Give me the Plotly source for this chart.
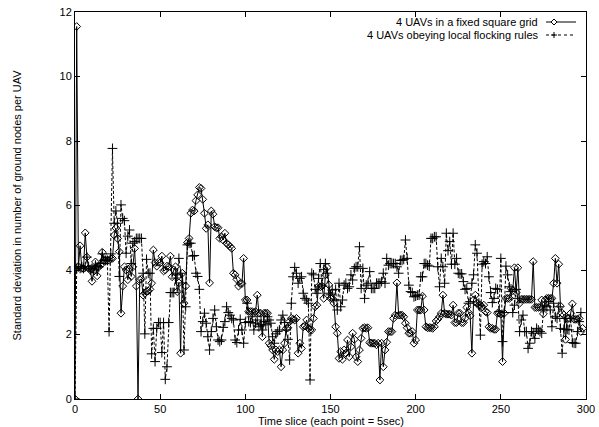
import plotly.graph_objects as go

# Series: 4 UAVs in a fixed square grid (index = time slice)
grid_vals = [
    0, 11.55, 4.1, 4.75, 4.05, 4.05, 5.15, 4.4, 4.05, 4.0,
    3.65, 4.0, 4.25, 3.82, 4.1, 4.15, 4.55, 4.3, 4.3, 4.3,
    4.3, 4.35, 4.36, 5.08, 5.3, 4.98, 4.57, 2.66, 3.5, 4.1,
    4.0, 3.7, 4.05, 3.8, 4.1, 4.67, 3.5, 0, 3.7, 3.72,
    3.22, 3.28, 3.33, 3.35, 3.4, 3.59, 4.62, 4.23, 4.12, 4.24,
    4.22, 4.43, 3.97, 4.0, 4.12, 4.1, 4.43, 3.79, 4.0, 4.1,
    3.33, 3.6, 1.42, 3.9, 2.97, 3.5, 4.85, 4.98, 5.76, 5.86,
    5.83, 6.15, 6.33, 6.56, 6.53, 6.19, 5.76, 5.29, 5.4, 3.6,
    5.83, 5.73, 5.34, 5.31, 5.31, 4.98, 5.03, 4.93, 5.14, 4.83,
    4.78, 4.73, 4.67, 3.9, 3.85, 3.71, 3.5, 3.58, 3.58, 4.36,
    3.07, 3.07, 2.71, 2.71, 2.71, 2.68, 2.71, 3.22, 2.66, 2.66,
    1.93, 2.66, 2.66, 2.66, 1.73, 1.65, 1.52, 1.23, 1.52, 1.47,
    1.52, 1.0, 1.52, 1.73, 2.19, 2.21, 2.4, 2.5, 2.47, 2.45,
    2.5, 1.42, 1.73, 1.57, 2.24, 2.26, 2.45, 2.19, 2.14, 2.14,
    2.5, 2.86, 2.91, 3.5, 3.48, 3.5, 3.12, 3.85, 4.08, 3.54,
    3.12, 3.12, 2.97, 2.24, 2.04, 1.26, 1.47, 1.23, 1.52, 1.42,
    1.83, 1.31, 1.62, 2.04, 1.85, 1.31, 1.16, 1.52, 1.88, 2.19,
    2.21, 2.19, 2.21, 1.75, 1.73, 1.73, 1.73, 1.68, 1.73, 0.59,
    1.73, 1.0, 1.52, 1.76, 2.09, 2.09, 2.09, 2.5, 2.6, 3.6,
    2.6, 2.6, 2.6, 2.55, 2.35, 2.21, 2.04, 2.04, 2.09, 1.73,
    1.83, 2.76, 2.76, 2.76, 3.19, 2.76, 2.24, 2.21, 2.21, 2.21,
    2.19, 2.24, 2.42, 2.47, 2.55, 2.66, 3.22, 2.66, 2.63, 2.63,
    2.63, 2.6, 2.91, 2.37, 2.37, 2.66, 2.66, 2.37, 2.37, 2.5,
    2.84, 2.68, 2.58, 1.42, 3.07, 3.22, 2.97, 2.91, 2.91, 2.86,
    2.91, 2.71, 2.68, 2.24, 2.19, 2.19, 2.16, 2.16, 2.66, 2.66,
    2.63, 1.16, 2.66, 3.12, 3.12, 3.12, 3.43, 3.36, 4.07, 3.3,
    4.07, 2.97, 3.09, 3.09, 3.09, 3.09, 3.09, 3.09, 3.09, 4.26,
    2.84, 2.84, 2.84, 2.84, 3.07, 2.64, 3.07, 3.12, 3.12, 3.12,
    3.12, 3.59, 4.36, 3.59, 4.18, 2.88, 2.66, 2.61, 1.85, 2.5,
    2.5, 2.66, 2.95, 2.47, 2.47, 2.47, 2.5, 2.09, 2.19,
]

# Series: 4 UAVs obeying local flocking rules
flock_vals = [
    0, 4.05, 4.1, 4.05, 4.1, 4.05, 4.1, 4.4, 4.1, 4.0,
    4.05, 4.0, 4.15, 4.1, 4.1, 4.2, 4.5, 4.3, 4.3, 4.3,
    2.09, 4.5, 7.77, 5.45, 5.83, 5.45, 3.8, 6.02, 5.6, 5.53,
    4.52, 5.05, 5.24, 4.2, 4.83, 4.88, 4.98, 4.98, 4.98, 4.98,
    3.9, 2.02, 4.33, 3.9, 3.9, 1.4, 2.19, 1.16, 2.19, 2.37,
    2.37, 1.44, 2.37, 0.61, 1.0, 2.37, 3.3, 3.3, 3.3, 3.75,
    3.85, 4.36, 3.9, 3.6, 1.52, 2.86, 4.78, 4.83, 4.83, 4.43,
    4.45, 3.9, 3.8, 3.4, 2.09, 2.4, 2.66, 2.35, 1.93, 1.52,
    2.09, 2.5, 2.76, 2.24, 1.83, 1.78, 1.83, 2.22, 2.4, 2.86,
    2.68, 2.6, 2.5, 2.45, 1.83, 1.75, 2.14, 2.47, 2.14, 1.73,
    2.37, 2.97, 2.4, 2.37, 2.55, 2.14, 2.35, 2.45, 2.24, 2.3,
    2.14, 2.4, 2.3, 2.55, 2.45, 2.35, 1.93, 1.73, 2.02, 2.09,
    2.14, 2.45, 2.6, 2.37, 2.14, 1.85, 1.21, 2.97, 3.79, 4.08,
    3.9, 3.59, 3.74, 3.79, 3.28, 3.12, 3.07, 2.97, 0.59, 3.9,
    3.85, 3.4, 3.28, 3.74, 4.2, 3.53, 4.02, 4.2, 3.9, 3.28,
    3.23, 3.38, 3.07, 3.4, 2.76, 3.59, 2.86, 3.07, 3.53, 3.59,
    3.43, 3.48, 3.85, 3.69, 4.05, 4.1, 4.1, 4.72, 3.43, 4.05,
    3.12, 3.53, 3.59, 3.95, 3.43, 3.43, 3.43, 3.59, 3.59, 3.59,
    3.64, 3.9, 3.59, 4.36, 4.15, 4.2, 4.2, 4.2, 4.2, 4.1,
    3.9, 4.3, 4.3, 4.33, 4.93, 4.36, 3.53, 3.33, 3.3, 3.17,
    3.19, 3.22, 3.22, 3.79, 3.79, 4.2, 4.2, 4.15, 4.12, 4.98,
    4.98, 5.03, 5.03, 4.1, 3.48, 4.36, 4.1, 3.59, 5.14, 4.6,
    4.88, 4.18, 5.14, 4.18, 4.36, 3.9, 3.88, 3.88, 3.64, 3.4,
    3.43, 2.97, 3.02, 3.59, 3.85, 4.78, 4.52, 2.91, 1.98, 4.18,
    4.26, 4.2, 4.41, 3.79, 3.3, 2.99, 3.12, 3.43, 3.4, 2.71,
    4.36, 1.78, 2.68, 4.12, 3.85, 3.48, 3.33, 2.68, 2.91, 3.4,
    3.12, 2.09, 2.45, 2.6, 2.09, 2.09, 1.57, 1.73, 2.09, 2.04,
    1.88, 2.19, 2.14, 2.09, 2.04, 2.76, 2.91, 2.86, 3.02, 2.76,
    2.24, 2.97, 2.55, 2.5, 2.86, 2.19, 1.42, 2.16, 2.5, 2.16,
    2.14, 2.5, 1.75, 1.73, 1.73, 2.09, 2.4, 2.68,
]

x_ticks = [0, 50, 100, 150, 200, 250, 300]
y_ticks = [0, 2, 4, 6, 8, 10, 12]

series_names = ["4 UAVs in a fixed square grid", "4 UAVs obeying local flocking rules"]
x_title = "Time slice (each point = 5sec)"
y_title = "Standard deviation in number of ground nodes per UAV"

FONT = "Liberation Sans, Arial, Helvetica, sans-serif"

fig = go.Figure()
fig.add_trace(go.Scatter(
    x=list(range(len(grid_vals))), y=grid_vals, mode="lines+markers",
    name=series_names[0],
    line=dict(color="black", width=1),
    marker=dict(symbol="diamond-open", size=6, color="black", line=dict(width=1, color="black")),
))
fig.add_trace(go.Scatter(
    x=list(range(len(flock_vals))), y=flock_vals, mode="lines+markers",
    name=series_names[1],
    line=dict(color="black", width=1, dash="3px,2px"),
    marker=dict(symbol="cross-thin", size=7, color="black", line=dict(width=1, color="black")),
))

W, H = 599, 427
L, R, T, B = 75, 13, 12, 28
pw, ph = W - L - R, H - T - B

def px_to_paper(px, py):
    return (px - L) / pw, (H - B - py) / ph

shapes = []
annotations = []
# Custom gnuplot-style legend: text, then sample to the right
legend_rows = [(22, "solid", "diamond"), (35, "dash", "cross")]
for (py, dash, sym), name in zip(legend_rows, series_names):
    tx, ty = px_to_paper(540, py)
    annotations.append(dict(x=tx, y=ty, xref="paper", yref="paper", text=name,
                            showarrow=False, xanchor="right", yanchor="middle",
                            font=dict(family=FONT, size=11, color="black")))
    x0, _ = px_to_paper(546, py)
    x1, _ = px_to_paper(576, py)
    shapes.append(dict(type="line", xref="paper", yref="paper", x0=x0, x1=x1, y0=ty, y1=ty,
                       line=dict(color="black", width=1, dash="dot" if dash == "dash" else "solid")))
    cx, cy = px_to_paper(554, py)
    dx, dy = 3 / pw, 3 / ph
    if sym == "diamond":
        path = f"M {cx-dx},{cy} L {cx},{cy+dy} L {cx+dx},{cy} L {cx},{cy-dy} Z"
        shapes.append(dict(type="path", xref="paper", yref="paper", path=path,
                           fillcolor="white", line=dict(color="black", width=1)))
    else:
        shapes.append(dict(type="line", xref="paper", yref="paper", x0=cx - dx, x1=cx + dx, y0=cy, y1=cy,
                           line=dict(color="black", width=1)))
        shapes.append(dict(type="line", xref="paper", yref="paper", x0=cx, x1=cx, y0=cy - dy, y1=cy + dy,
                           line=dict(color="black", width=1)))

annotations.append(dict(x=0, y=0.5, xref="paper", yref="paper", text=y_title, textangle=-90,
                        showarrow=False, xanchor="center", yanchor="middle", xshift=-59,
                        font=dict(family=FONT, size=11, color="black")))
annotations.append(dict(x=0.5, y=0, xref="paper", yref="paper", text=x_title,
                        showarrow=False, xanchor="center", yanchor="middle", yshift=-22,
                        font=dict(family=FONT, size=11, color="black")))

fig.update_layout(
    width=W, height=H,
    margin=dict(l=L, r=R, t=T, b=B, pad=0, autoexpand=False),
    paper_bgcolor="white", plot_bgcolor="white",
    showlegend=False,
    font=dict(family=FONT, size=11, color="black"),
    shapes=shapes, annotations=annotations,
)
fig.update_xaxes(range=[0, 300], tickvals=x_ticks, ticktext=[str(v) for v in x_ticks],
                 showgrid=False, zeroline=False, showline=True, linecolor="black", linewidth=1,
                 mirror="ticks", ticks="inside", ticklen=5, tickcolor="black", tickwidth=1,
                 automargin=False,
                 tickfont=dict(family=FONT, size=11, color="black"))
fig.update_yaxes(range=[0, 12], tickvals=y_ticks, ticktext=[str(v) for v in y_ticks],
                 showgrid=False, zeroline=False, showline=True, linecolor="black", linewidth=1,
                 mirror="ticks", ticks="inside", ticklen=5, tickcolor="black", tickwidth=1,
                 automargin=False,
                 tickfont=dict(family=FONT, size=11, color="black"))

fig.write_html("out.html", config={"displayModeBar": False},
               post_script="document.body.style.margin='0';document.body.style.padding='0';")
